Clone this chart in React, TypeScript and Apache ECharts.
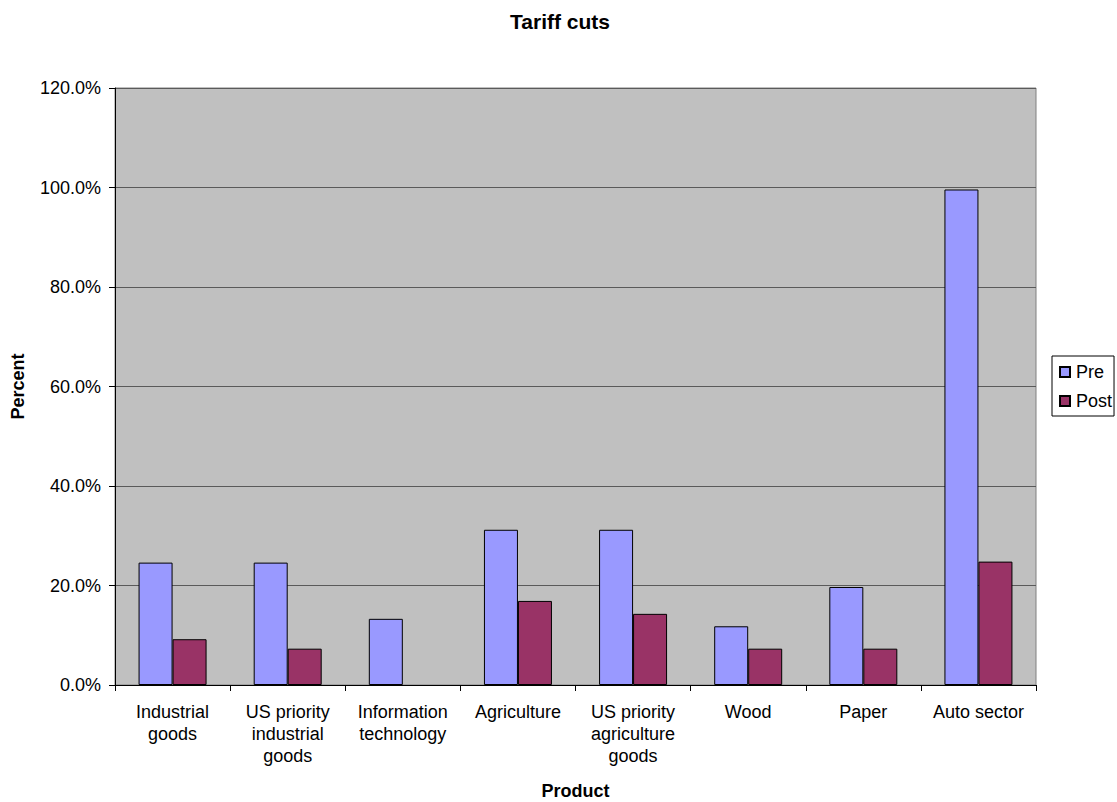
import React, { useEffect, useRef } from "react";
import * as echarts from "echarts";

const categories = [
  "Industrial\ngoods",
  "US priority\nindustrial\ngoods",
  "Information\ntechnology",
  "Agriculture",
  "US priority\nagriculture\ngoods",
  "Wood",
  "Paper",
  "Auto sector",
];
const preValues = [24.6, 24.6, 13.3, 31.2, 31.2, 11.8, 19.7, 99.6];
const postValues = [9.2, 7.3, 0, 16.9, 14.3, 7.3, 7.3, 24.8];
const yTicks = { min: 0, max: 120, interval: 20 };

const FONT = "'Liberation Sans', Arial, sans-serif";

const barData = (vals: number[]) =>
  vals.map((v) => (v === 0 ? { value: v, itemStyle: { borderWidth: 0, opacity: 0 } } : v));

export default function App() {
  const ref = useRef<HTMLDivElement>(null);
  useEffect(() => {
    if (!ref.current) return;
    const chart = echarts.init(ref.current, null, { renderer: "svg" });
    chart.setOption({
      animation: false,
      backgroundColor: "#ffffff",
      textStyle: { fontFamily: FONT, color: "#000" },
      title: {
        text: "Tariff cuts",
        left: 555,
        textAlign: "center",
        top: 6,
        textStyle: { fontFamily: FONT, fontSize: 21, fontWeight: "bold", color: "#000" },
      },
      legend: {
        orient: "vertical",
        left: 1052,
        top: 356,
        itemWidth: 10,
        itemHeight: 10,
        itemGap: 11,
        padding: [7, 2, 6, 7],
        borderColor: "#000",
        borderWidth: 1,
        backgroundColor: "#fff",
        borderRadius: 0,
        textStyle: { fontFamily: FONT, fontSize: 18, lineHeight: 18, color: "#000", padding: [0, 0, 0, 1] },
        data: [
          { name: "Pre", icon: "rect" },
          { name: "Post", icon: "rect" },
        ],
      },
      grid: {
        left: 115,
        top: 88,
        width: 921,
        height: 597,
        show: true,
        backgroundColor: "#C0C0C0",
        borderColor: "#808080",
        borderWidth: 1,
        containLabel: false,
        outerBoundsMode: "none",
      },
      xAxis: {
        type: "category",
        data: categories,
        boundaryGap: true,
        name: "Product",
        nameLocation: "middle",
        nameGap: 97,
        nameTextStyle: { fontFamily: FONT, fontSize: 18, fontWeight: "bold", color: "#000" },
        axisLine: { show: true, lineStyle: { color: "#000", width: 1 } },
        axisTick: { show: true, length: 6, alignWithLabel: false, interval: 0, lineStyle: { color: "#000" } },
        axisLabel: {
          interval: 0,
          margin: 16,
          fontFamily: FONT,
          fontSize: 18,
          lineHeight: 22,
          color: "#000",
          align: "center",
        },
        splitLine: { show: false },
      },
      yAxis: {
        type: "value",
        min: yTicks.min,
        max: yTicks.max,
        interval: yTicks.interval,
        name: "Percent",
        nameLocation: "middle",
        nameGap: 88,
        nameRotate: 90,
        nameTextStyle: { fontFamily: FONT, fontSize: 18, fontWeight: "bold", color: "#000" },
        axisLine: { show: true, lineStyle: { color: "#000", width: 1 } },
        axisTick: { show: true, length: 6, lineStyle: { color: "#000" } },
        axisLabel: {
          margin: 14,
          fontFamily: FONT,
          fontSize: 18,
          color: "#000",
          formatter: (v: number) => v.toFixed(1) + "%",
        },
        splitLine: { show: true, lineStyle: { color: "#5a5a5a", width: 1 } },
      },
      series: [
        {
          name: "Pre",
          type: "bar",
          data: barData(preValues),
          barWidth: 34,
          barGap: "0%",
          itemStyle: { color: "#9999FF", borderColor: "#000", borderWidth: 1 },
        },
        {
          name: "Post",
          type: "bar",
          data: barData(postValues),
          barWidth: 34,
          barGap: "0%",
          itemStyle: { color: "#993366", borderColor: "#000", borderWidth: 1 },
        },
      ],
    });
    return () => chart.dispose();
  }, []);
  return (
    <div
      ref={ref}
      style={{ position: "fixed", left: 0, top: 0, width: 1117, height: 802 }}
    />
  );
}
